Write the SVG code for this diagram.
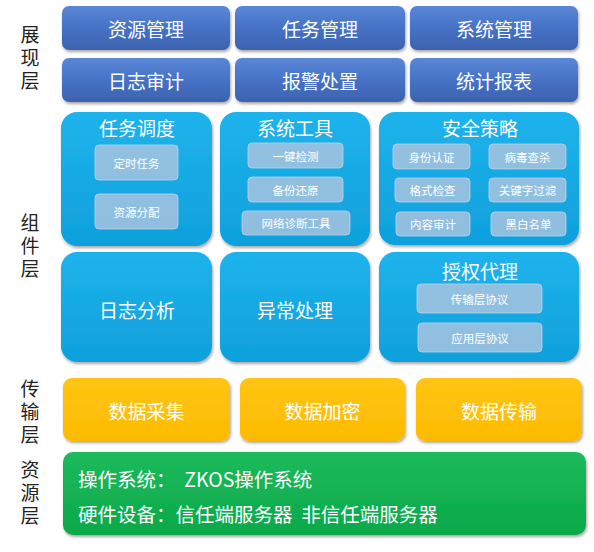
<svg xmlns="http://www.w3.org/2000/svg" width="594" height="552" viewBox="0 0 594 552">
<defs>
<linearGradient id="gBlue" x1="0" y1="0" x2="0" y2="1"><stop offset="0" stop-color="#5A87D6"/><stop offset="0.5" stop-color="#4672C6"/><stop offset="1" stop-color="#3C62AE"/></linearGradient>
<linearGradient id="gCyan" x1="0" y1="0" x2="0" y2="1"><stop offset="0" stop-color="#1FB3EC"/><stop offset="1" stop-color="#0FA0DC"/></linearGradient>
<linearGradient id="gYel" x1="0" y1="0" x2="0" y2="1"><stop offset="0" stop-color="#FFC514"/><stop offset="1" stop-color="#FDBB00"/></linearGradient>
<linearGradient id="gGrn" x1="0" y1="0" x2="0" y2="1"><stop offset="0" stop-color="#1DBB5C"/><stop offset="1" stop-color="#0AA84A"/></linearGradient>
<filter id="sh" x="-10%" y="-10%" width="120%" height="130%"><feDropShadow dx="1" dy="2" stdDeviation="1.5" flood-color="#000" flood-opacity="0.35"/></filter>
</defs>
<style>
.side{font-family:"Noto Sans CJK SC","Noto Sans",sans-serif;font-size:19px;fill:#222;text-anchor:middle;writing-mode:vertical-rl;letter-spacing:4px}
.t{font-family:"Noto Sans CJK SC","Noto Sans",sans-serif;fill:#fff;text-anchor:middle;dominant-baseline:central}
.big{font-size:19px}
.sm{font-size:11.5px}
.blue{fill:url(#gBlue);filter:url(#sh)}
.cyan{fill:url(#gCyan);filter:url(#sh)}
.yel{fill:url(#gYel);filter:url(#sh)}
.grn{fill:url(#gGrn);filter:url(#sh)}
.sub{fill:#A7C3DE;fill-opacity:0.85;stroke:#BCD3EA;stroke-width:0.8}
.res{font-family:"Noto Sans CJK SC","Noto Sans",sans-serif;fill:#fff;font-size:19.5px;dominant-baseline:central}
</style>
<g id="labels">
<text class="side" x="30" y="60">展现层</text>
<text class="side" x="30" y="248">组件层</text>
<text class="side" x="30" y="414">传输层</text>
<text class="side" x="30" y="495">资源层</text>
</g>
<g id="n-zygl"><rect class="blue" x="62" y="6" width="168" height="44" rx="7"/><text class="t big" x="146" y="28">资源管理</text></g>
<g id="n-rwgl"><rect class="blue" x="235" y="6" width="170" height="44" rx="7"/><text class="t big" x="320" y="28">任务管理</text></g>
<g id="n-xtgl"><rect class="blue" x="410" y="6" width="168" height="44" rx="7"/><text class="t big" x="494" y="28">系统管理</text></g>
<g id="n-rzsj"><rect class="blue" x="62" y="58" width="168" height="44" rx="7"/><text class="t big" x="146" y="80">日志审计</text></g>
<g id="n-bjcz"><rect class="blue" x="235" y="58" width="170" height="44" rx="7"/><text class="t big" x="320" y="80">报警处置</text></g>
<g id="n-tjbb"><rect class="blue" x="410" y="58" width="168" height="44" rx="7"/><text class="t big" x="494" y="80">统计报表</text></g>

<g id="n-rwdd"><rect class="cyan" x="61" y="112" width="151" height="134" rx="16"/><text class="t big" x="137" y="127">任务调度</text>
<rect class="sub" x="95" y="145" width="83" height="35" rx="4"/><text class="t sm" x="136.5" y="162.5">定时任务</text>
<rect class="sub" x="95" y="194" width="83" height="35" rx="4"/><text class="t sm" x="136.5" y="211.5">资源分配</text></g>
<g id="n-xtgj"><rect class="cyan" x="220" y="112" width="150" height="134" rx="16"/><text class="t big" x="295" y="127">系统工具</text>
<rect class="sub" x="248" y="143" width="95" height="25" rx="4"/><text class="t sm" x="295.5" y="155.5">一键检测</text>
<rect class="sub" x="248" y="177" width="95" height="25" rx="4"/><text class="t sm" x="295.5" y="189.5">备份还原</text>
<rect class="sub" x="242" y="211" width="108" height="24" rx="4"/><text class="t sm" x="296" y="223">网络诊断工具</text></g>
<g id="n-aqcl"><rect class="cyan" x="379" y="112" width="200" height="133" rx="16"/><text class="t big" x="480" y="127">安全策略</text>
<rect class="sub" x="393" y="144" width="77" height="25" rx="4"/><text class="t sm" x="431.5" y="156.5">身份认证</text>
<rect class="sub" x="489" y="144" width="77" height="25" rx="4"/><text class="t sm" x="527.5" y="156.5">病毒查杀</text>
<rect class="sub" x="395" y="178" width="75" height="24" rx="4"/><text class="t sm" x="432.5" y="190">格式检查</text>
<rect class="sub" x="489" y="178" width="77" height="24" rx="4"/><text class="t sm" x="527.5" y="190">关键字过滤</text>
<rect class="sub" x="396" y="212" width="74" height="24" rx="4"/><text class="t sm" x="433" y="224">内容审计</text>
<rect class="sub" x="491" y="212" width="75" height="24" rx="4"/><text class="t sm" x="528.5" y="224">黑白名单</text></g>

<g id="n-rzfx"><rect class="cyan" x="61" y="252" width="151" height="110" rx="16"/><text class="t big" x="137" y="309">日志分析</text></g>
<g id="n-yccl"><rect class="cyan" x="220" y="252" width="150" height="110" rx="16"/><text class="t big" x="295" y="309">异常处理</text></g>
<g id="n-sqdl"><rect class="cyan" x="379" y="252" width="200" height="110" rx="16"/><text class="t big" x="480" y="270">授权代理</text>
<rect class="sub" x="417" y="284" width="125" height="29" rx="4"/><text class="t sm" x="479.5" y="298.5">传输层协议</text>
<rect class="sub" x="418" y="323" width="124" height="29" rx="4"/><text class="t sm" x="480" y="337.5">应用层协议</text></g>

<g id="n-sjcj"><rect class="yel" x="63" y="378" width="167" height="63" rx="9"/><text class="t big" x="146.5" y="410">数据采集</text></g>
<g id="n-sjjm"><rect class="yel" x="240" y="378" width="165" height="63" rx="9"/><text class="t big" x="322.5" y="410">数据加密</text></g>
<g id="n-sjcs"><rect class="yel" x="416" y="378" width="166" height="63" rx="9"/><text class="t big" x="499" y="410">数据传输</text></g>

<g id="n-zyc"><rect class="grn" x="63" y="452" width="523" height="83" rx="10"/>
<text class="res" x="78" y="478" xml:space="preserve">操作系统：  ZKOS操作系统</text>
<text class="res" x="78" y="513" xml:space="preserve">硬件设备：信任端服务器  非信任端服务器</text></g>
<g id="connectors"/>
</svg>
